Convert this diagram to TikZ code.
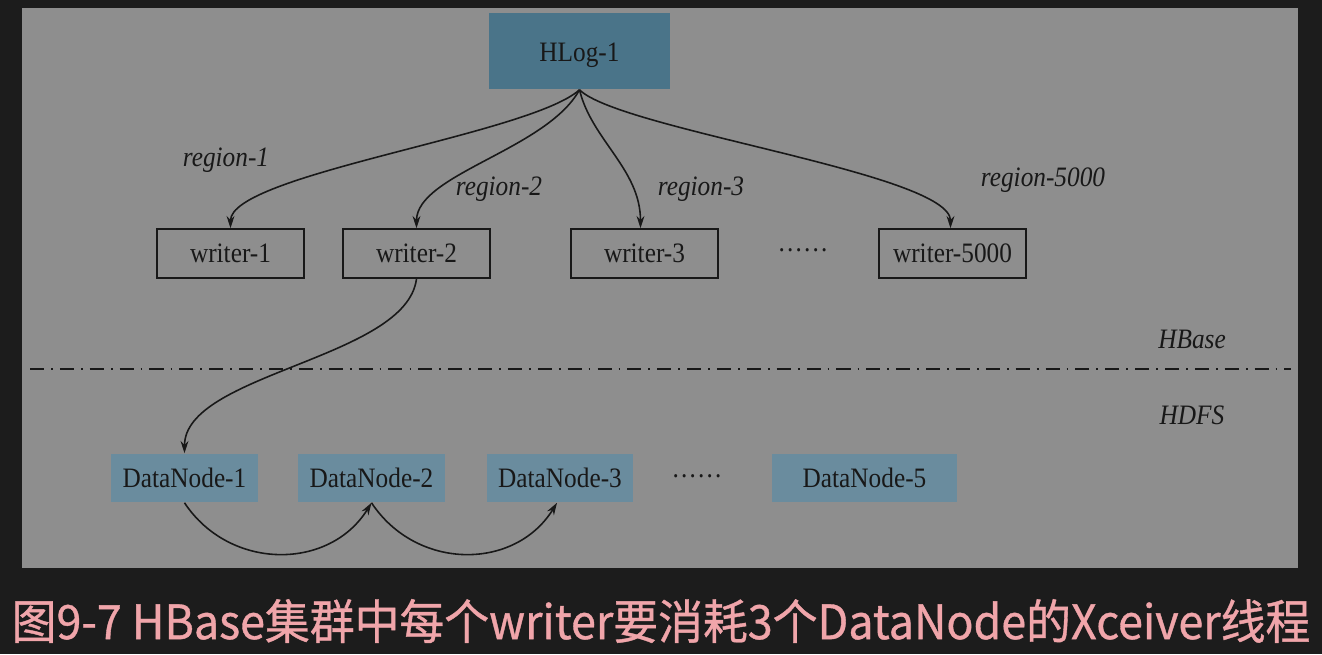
\documentclass[tikz,border=0pt]{standalone}
\usepackage{fontspec}
\setmainfont{Liberation Serif}[FakeStretch=0.9]
\newfontfamily\cjk{Noto Sans CJK SC}[FakeBold=0.8]
\usepackage{tikz}
\usetikzlibrary{arrows.meta, positioning, calc}
\definecolor{pagebg}{HTML}{1C1C1C}
\definecolor{panelbg}{HTML}{8E8E8E}
\definecolor{hlogblue}{HTML}{4A7489}
\definecolor{dnblue}{HTML}{6A8C9E}
\definecolor{ink}{HTML}{181818}
\definecolor{capink}{HTML}{F0A5AA}
\tikzset{
  box/.style={draw=ink, line width=0.9pt, rectangle, minimum width=2.94cm, minimum height=0.98cm, inner sep=0pt, font=\fontsize{16}{18}\selectfont, text=ink},
  hlog/.style={box, draw=none, fill=hlogblue, minimum width=3.64cm, minimum height=1.52cm, text height=16pt, text depth=3.5pt},
  datanode/.style={box, draw=none, fill=dnblue, minimum height=0.96cm},
  lbl/.style={font=\fontsize{16}{18}\selectfont\itshape, text=ink, inner sep=0pt},
  link/.style={-{Stealth[length=7pt, width=4.5pt]}, line width=0.9pt, ink},
  layerline/.style={line width=0.9pt, ink, dash pattern=on 8pt off 4pt on 1pt off 4pt},
}

\begin{document}
\begin{tikzpicture}[x=0.02cm, y=-0.02cm]
  % page and panel
  \fill[pagebg] (0,0) rectangle (1322,654);
  \fill[panelbg] (22,8) rectangle (1298,568);
  \useasboundingbox (0,0) rectangle (1322,654);

  \node[hlog] (hlog) at (579.5,51) {HLog-1};

  \node[box] (w1) at (230.5,253.5) {writer-1};
  \node[box] (w2) at (416.5,253.5) {writer-2};
  \node[box] (w3) at (644.5,253.5) {writer-3};
  \node[lbl, font=\fontsize{16}{18}\selectfont] (wdots) at (803,250) {……};
  \node[box] (w5000) at (952.5,253.5) {writer-5000};

  \node[lbl] (r1) at (226,160) {region-1};
  \node[lbl] (r2) at (499,189) {region-2};
  \node[lbl] (r3) at (701,189) {region-3};
  \node[lbl] (r5000) at (1043,180) {region-5000};

  \draw[link] (hlog.south) .. controls +(-50,45) and +(0,-54) .. (w1.north);
  \draw[link] (hlog.south) .. controls +(-33,60) and +(0,-54) .. (w2.north);
  \draw[link] (hlog.south) .. controls +(12,50) and +(0,-59) .. ([xshift=-4*0.02cm]w3.north);
  \draw[link] (hlog.south) .. controls +(40,40) and +(0,-55) .. ([xshift=-2*0.02cm]w5000.north);

  % HBase / HDFS boundary
  \coordinate (sepL) at (30,369);
  \coordinate (sepR) at (1291,369);
  \draw[layerline] (sepL) -- (sepR);
  \node[lbl] (hbase) at (1192,339) {HBase};
  \node[lbl] (hdfs) at (1192,415) {HDFS};

  \node[datanode] (dn1) at (184.5,478) {DataNode-1};
  \node[datanode] (dn2) at (371.5,478) {DataNode-2};
  \node[datanode] (dn3) at (560,478) {DataNode-3};
  \node[lbl, font=\fontsize{16}{18}\selectfont] (ddots) at (697,476) {……};
  \node[datanode, minimum width=3.7cm] (dn5) at (864.5,478) {DataNode-5};

  \draw[link] (w2.south) .. controls +(-10,80) and +(0,-80) .. (dn1.north);
  \draw[link] (dn1.south) .. controls +(45,68) and +(-42,68) .. (dn2.south);
  \draw[link] (dn2.south) .. controls +(45,68) and +(-42,68) .. ([xshift=-3*0.02cm]dn3.south);

  % caption
  \node[text=capink, font=\cjk\fontsize{27}{30}\selectfont, inner sep=0pt] (cap) at (661,621)
    {\scalebox{0.945}[1]{图9-7 HBase集群中每个writer要消耗3个DataNode的Xceiver线程}};
\end{tikzpicture}
\end{document}
